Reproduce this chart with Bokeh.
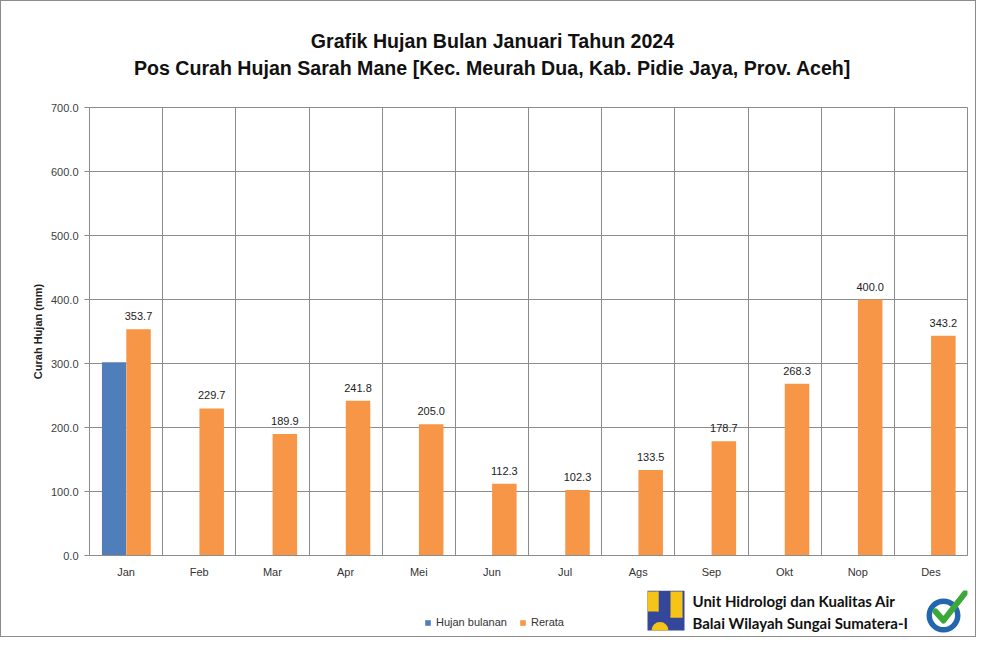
from bokeh.plotting import figure
from bokeh.layouts import column
from bokeh.models import (ColumnDataSource, FactorRange, Range1d, FixedTicker, NumeralTickFormatter,
                          LabelSet, Legend, LegendItem)
from bokeh.transform import dodge
from bokeh.core.properties import value
from bokeh.embed import file_html
from bokeh.resources import INLINE

months = ["Jan", "Feb", "Mar", "Apr", "Mei", "Jun", "Jul", "Ags", "Sep", "Okt", "Nop", "Des"]
hujan_bulanan = [302.0]  # only January observed
rerata = [353.7, 229.7, 189.9, 241.8, 205.0, 112.3, 102.3, 133.5, 178.7, 268.3, 400.0, 343.2]
y_ticks = [0, 100, 200, 300, 400, 500, 600, 700]

title1 = "Grafik Hujan Bulan Januari Tahun 2024"
title2 = "Pos Curah Hujan Sarah Mane [Kec. Meurah Dua, Kab. Pidie Jaya, Prov. Aceh]"
footer1 = "Unit Hidrologi dan Kualitas Air"
footer2 = "Balai Wilayah Sungai Sumatera-I"
series_names = ["Hujan bulanan", "Rerata"]

BLUE = "#4F7EBB"
ORANGE = "#F79646"
GRID = "#8C8C8C"
ARIAL = "Liberation Sans"
YELLOW = "#F6C417"
NAVY = "#34479A"

W = 974
H_HEAD, H_MAIN, H_FOOT = 79, 510, 46
BL, BR = 88, 8           # plot borders (frames of all three panels are aligned)
X0, X1 = BL + 1, W - BR + 1   # picture x-span of the aligned frames


def panel(h, top):
    f = figure(width=W, height=h, x_range=Range1d(X0, X1), y_range=Range1d(top + h, top),
               output_backend="svg", toolbar_location=None, x_axis_type=None, y_axis_type=None,
               min_border_left=BL, min_border_right=BR, min_border_top=0, min_border_bottom=0)
    f.grid.visible = False
    f.outline_line_color = None
    f.background_fill_color = "white"
    f.border_fill_color = "white"
    return f


# ---------- header with titles ----------
head = panel(H_HEAD, 1)
head.text(x=[492, 492], y=[40, 67], text=[title1, title2], text_align="center",
          text_baseline="middle", text_font=value(ARIAL), text_font_size="19.6px",
          text_font_style="bold", text_color="#111111")

# ---------- main chart ----------
src_b = ColumnDataSource(dict(month=months[:len(hujan_bulanan)], val=hujan_bulanan))
src_r = ColumnDataSource(dict(month=months, val=rerata, lbl=[f"{v:.1f}" for v in rerata]))

p = figure(width=W, height=H_MAIN, x_range=FactorRange(*months), y_range=Range1d(0, 700),
           output_backend="svg", toolbar_location=None, title=None,
           min_border_left=BL, min_border_right=BR, min_border_top=27, min_border_bottom=35)
p.background_fill_color = "white"
p.border_fill_color = "white"
p.outline_line_color = GRID
p.outline_line_width = 1

p.vbar(x=dodge("month", -0.165, range=p.x_range), top="val", width=0.33, source=src_b,
       fill_color=BLUE, line_color=None)
p.vbar(x=dodge("month", 0.17, range=p.x_range), top="val", width=0.335, source=src_r,
       fill_color=ORANGE, line_color=None)

labels = LabelSet(x=dodge("month", 0.17, range=p.x_range), y="val", text="lbl", source=src_r,
                  text_align="center", text_baseline="bottom", y_offset=9,
                  text_font=value(ARIAL), text_font_size="11px", text_color="#222222")
p.add_layout(labels)

p.yaxis.ticker = FixedTicker(ticks=y_ticks)
p.yaxis.formatter = NumeralTickFormatter(format="0.0")
p.yaxis.axis_line_color = None
p.yaxis.major_tick_line_color = GRID
p.yaxis.major_tick_out = 5
p.yaxis.major_tick_in = 0
p.yaxis.minor_tick_line_color = None
p.yaxis.major_label_text_font = ARIAL
p.yaxis.major_label_text_font_size = "11px"
p.yaxis.major_label_text_color = "#404040"
p.yaxis.major_label_standoff = 6
p.yaxis.axis_label = "Curah Hujan (mm)"
p.yaxis.axis_label_text_font = ARIAL
p.yaxis.axis_label_text_font_size = "11px"
p.yaxis.axis_label_text_font_style = "bold"
p.yaxis.axis_label_text_color = "#222222"
p.yaxis.axis_label_standoff = 4

p.xaxis.axis_line_color = GRID
p.xaxis.major_tick_line_color = None
p.xaxis.minor_tick_line_color = None
p.xaxis.major_label_text_font = ARIAL
p.xaxis.major_label_text_font_size = "11px"
p.xaxis.major_label_text_color = "#333333"
p.xaxis.major_label_standoff = 4

p.ygrid.ticker = FixedTicker(ticks=y_ticks)
p.ygrid.grid_line_color = GRID
p.xgrid.ticker = FixedTicker(ticks=list(range(1, len(months))))
p.xgrid.grid_line_color = GRID

# ---------- footer: legend + institution logo ----------
foot = panel(H_FOOT, 590)
# legend proxies (zero-height bars, invisible in the footer)
lb = foot.vbar(x=[X0], top=[590 + H_FOOT], bottom=[590 + H_FOOT], width=0,
               fill_color=BLUE, line_color=None)
lr = foot.vbar(x=[X0], top=[590 + H_FOOT], bottom=[590 + H_FOOT], width=0,
               fill_color=ORANGE, line_color=None)
legend = Legend(items=[LegendItem(label=series_names[0], renderers=[lb]),
                       LegendItem(label=series_names[1], renderers=[lr])],
                orientation="horizontal", location=(335, 8), border_line_color=None,
                background_fill_alpha=0, glyph_width=7, glyph_height=7, label_text_font=ARIAL,
                label_text_font_size="11px", label_text_color="#333333", spacing=12,
                label_standoff=5, padding=0, margin=0, label_height=12)
foot.add_layout(legend, "center")

# PU emblem
foot.quad(left=[647], right=[684], top=[590], bottom=[630], fill_color=NAVY, line_color=None)
foot.quad(left=[647, 670], right=[658, 682], top=[591, 591], bottom=[611, 617],
          fill_color=YELLOW, line_color=None)
foot.wedge(x=[658, 676], y=[601, 617], radius=[10, 6], start_angle=[-1.5708, 3.1416],
           end_angle=[1.5708, 0.0], direction="clock", fill_color=YELLOW, line_color=None)
foot.wedge(x=[659.5], y=[630], radius=8.5, start_angle=3.1416, end_angle=0.0,
           direction="clock", fill_color=YELLOW, line_color=None)

foot.text(x=[692, 692], y=[600, 622], text=[footer1, footer2], text_baseline="middle",
          text_font=value("Lato"), text_font_size="15px", text_font_style="bold",
          text_color="#111111")

# ISO certificate badge
foot.annulus(x=[943], y=[615], inner_radius=11.5, outer_radius=17, fill_color="#2366AE",
             line_color=None)
foot.multi_line(xs=[[935, 943, 965]], ys=[[611, 620, 592]], line_color="#3CA83A", line_width=6,
                line_cap="round", line_join="round")

layout = column(head, p, foot, spacing=0,
                styles={"border": "1px solid #8C8C8C", "background-color": "white"})

open("out.html", "w").write(file_html(layout, INLINE))
